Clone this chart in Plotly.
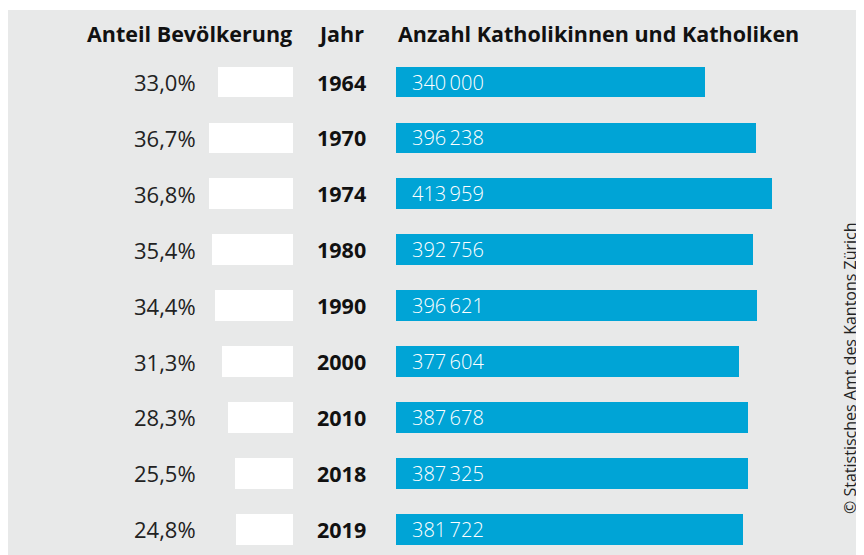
import plotly.graph_objects as go

years = ["1964", "1970", "1974", "1980", "1990", "2000", "2010", "2018", "2019"]
share = [33.0, 36.7, 36.8, 35.4, 34.4, 31.3, 28.3, 25.5, 24.8]
count = [340000, 396238, 413959, 392756, 396621, 377604, 387678, 387325, 381722]

# page body has an 8px margin, so the figure is a bit smaller than the window
W, H = 856, 547
BG = "#e8e9e9"
BLUE = "#00a4d6"
FONT = "Open Sans"

ROW0, ROWH = 74, 55.9   # centre of first row and row pitch in px


def fmt_pct(v):
    return f"{v:.1f}%".replace(".", ",")


def fmt_count(v):
    return f"{v:,}".replace(",", "\u2009")


fig = go.Figure()

# share of population, bars grow to the left
fig.add_trace(go.Bar(
    y=years, x=share, orientation="h",
    marker=dict(color="white", line=dict(width=0)),
    width=0.55, xaxis="x", yaxis="y", hoverinfo="skip",
))

# number of catholics
fig.add_trace(go.Bar(
    y=years, x=count, orientation="h",
    marker=dict(color=BLUE, line=dict(width=0)),
    width=0.55, xaxis="x2", yaxis="y", hoverinfo="skip",
))

ann = []
for i, (y, s, c) in enumerate(zip(years, share, count)):
    ann.append(dict(x=190 / W, xref="paper", y=i, yref="y", text=fmt_pct(s),
                    xanchor="right", showarrow=False,
                    font=dict(family=FONT, size=22, color="#222")))
    ann.append(dict(x=333 / W, xref="paper", y=i, yref="y", text=y,
                    xanchor="center", showarrow=False,
                    font=dict(family=FONT, size=21.5, color="#111", weight=700)))
    ann.append(dict(x=0, xref="x2", y=i, yref="y", text=fmt_count(c),
                    xanchor="left", xshift=14, showarrow=False,
                    font=dict(family=FONT, size=20, color="white", weight=300)))

hy = 1 - 26 / H
hfont = dict(family=FONT, size=21.5, color="#111", weight=700)
ann += [
    dict(x=286 / W, y=hy, xref="paper", yref="paper", text="Anteil Bevölkerung",
         xanchor="right", yanchor="middle", showarrow=False, font=hfont),
    dict(x=333 / W, y=hy, xref="paper", yref="paper", text="Jahr",
         xanchor="center", yanchor="middle", showarrow=False, font=hfont),
    dict(x=388 / W, y=hy, xref="paper", yref="paper", text="Anzahl Katholikinnen und Katholiken",
         xanchor="left", yanchor="middle", showarrow=False, font=hfont),
    dict(x=842 / W, y=1 - 360 / H, xref="paper", yref="paper",
         text="© Statistisches Amt des Kantons Zürich", textangle=-90,
         xanchor="center", yanchor="middle", showarrow=False,
         font=dict(family=FONT, size=16, color="#222")),
]

fig.update_layout(
    width=W, height=H,
    margin=dict(l=0, r=0, t=0, b=0),
    paper_bgcolor="white",
    plot_bgcolor="rgba(0,0,0,0)",
    showlegend=False,
    bargap=0,
    barmode="overlay",
    xaxis=dict(domain=[0, 285 / W], range=[285 / 2.28, 0], visible=False, fixedrange=True),
    xaxis2=dict(domain=[388 / W, 1], range=[0, (W - 388) / 0.000909], anchor="y",
                visible=False, fixedrange=True),
    yaxis=dict(type="category", range=[8 + (H - ROW0 - 8 * ROWH) / ROWH, -ROW0 / ROWH],
               visible=False, fixedrange=True),
    shapes=[dict(type="rect", xref="paper", yref="paper", x0=0, x1=1,
                 y0=0, y1=1 - 2 / H, fillcolor=BG, line=dict(width=0), layer="below")],
    annotations=ann,
)

fig.write_html("out.html")
